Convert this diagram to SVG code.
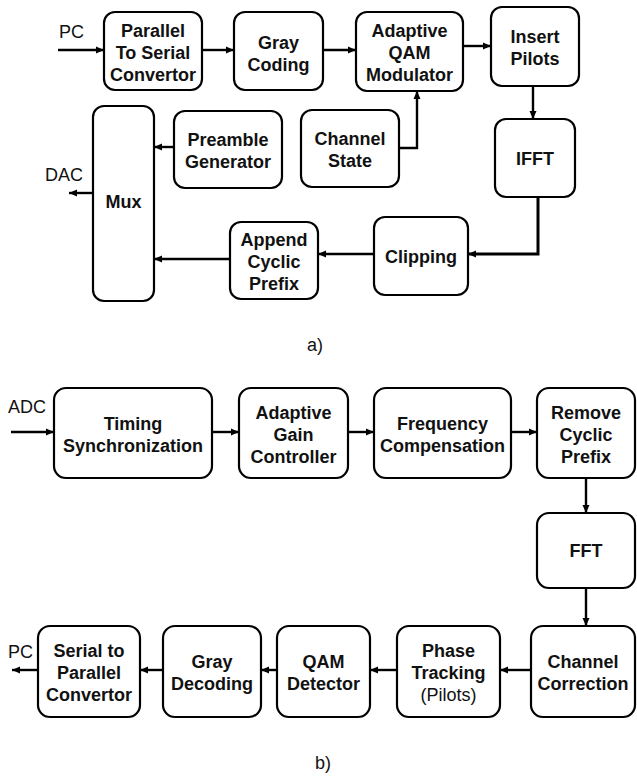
<svg xmlns="http://www.w3.org/2000/svg" width="637" height="777" viewBox="0 0 637 777">
  <style>
    .box { fill: #ffffff; stroke: #000000; stroke-width: 2.2; }
    .lbl { font-family: "Liberation Sans", Arial, sans-serif; font-size: 18px; font-weight: bold; fill: #111111; text-anchor: middle; }
    .reg { font-weight: normal; }
    .io { font-family: "Liberation Sans", Arial, sans-serif; font-size: 18px; fill: #111111; }
    .wire { fill: none; stroke: #000000; stroke-width: 2.4; marker-end: url(#head); }
  </style>
  <defs>
    <marker id="head" markerUnits="userSpaceOnUse" markerWidth="10" markerHeight="10" refX="9" refY="5" orient="auto">
      <path d="M1,1.5 L9,5 L1,8.5 Z" fill="#000000"/>
    </marker>
  </defs>

  <!-- Transmitter chain -->
  <g id="tx-p2s">
    <rect class="box" x="104" y="12" width="98" height="78" rx="11"/>
    <text class="lbl" x="153" y="37">Parallel</text>
    <text class="lbl" x="153" y="59">To Serial</text>
    <text class="lbl" x="153" y="81">Convertor</text>
  </g>
  <g id="tx-gray">
    <rect class="box" x="234" y="12" width="89" height="78" rx="11"/>
    <text class="lbl" x="278.5" y="48.5">Gray</text>
    <text class="lbl" x="278.5" y="70.5">Coding</text>
  </g>
  <g id="tx-qam">
    <rect class="box" x="356" y="12" width="107" height="79" rx="11"/>
    <text class="lbl" x="409.5" y="37">Adaptive</text>
    <text class="lbl" x="409.5" y="59">QAM</text>
    <text class="lbl" x="409.5" y="81">Modulator</text>
  </g>
  <g id="tx-pilots">
    <rect class="box" x="491" y="7" width="88" height="79" rx="11"/>
    <text class="lbl" x="535" y="43">Insert</text>
    <text class="lbl" x="535" y="65">Pilots</text>
  </g>
  <g id="tx-ifft">
    <rect class="box" x="495" y="119" width="80" height="78" rx="11"/>
    <text class="lbl" x="535" y="165">IFFT</text>
  </g>
  <g id="tx-chstate">
    <rect class="box" x="301" y="110" width="98" height="77" rx="11"/>
    <text class="lbl" x="350" y="145">Channel</text>
    <text class="lbl" x="350" y="167">State</text>
  </g>
  <g id="tx-preamble">
    <rect class="box" x="174" y="111" width="108" height="77" rx="11"/>
    <text class="lbl" x="228" y="146">Preamble</text>
    <text class="lbl" x="228" y="168">Generator</text>
  </g>
  <g id="tx-mux">
    <rect class="box" x="93" y="106" width="61" height="195" rx="11"/>
    <text class="lbl" x="123.5" y="208">Mux</text>
  </g>
  <g id="tx-cp">
    <rect class="box" x="230" y="222" width="88" height="77" rx="11"/>
    <text class="lbl" x="274" y="246">Append</text>
    <text class="lbl" x="274" y="268">Cyclic</text>
    <text class="lbl" x="274" y="290">Prefix</text>
  </g>
  <g id="tx-clip">
    <rect class="box" x="374" y="217" width="94" height="78" rx="11"/>
    <text class="lbl" x="421" y="263">Clipping</text>
  </g>

  <!-- Receiver chain -->
  <g id="rx-timing">
    <rect class="box" x="54" y="388" width="158" height="90" rx="12"/>
    <text class="lbl" x="133" y="430">Timing</text>
    <text class="lbl" x="133" y="452">Synchronization</text>
  </g>
  <g id="rx-agc">
    <rect class="box" x="239" y="388" width="109" height="90" rx="12"/>
    <text class="lbl" x="293.5" y="419">Adaptive</text>
    <text class="lbl" x="293.5" y="441">Gain</text>
    <text class="lbl" x="293.5" y="463">Controller</text>
  </g>
  <g id="rx-freq">
    <rect class="box" x="374" y="388" width="137" height="90" rx="12"/>
    <text class="lbl" x="442.5" y="430">Frequency</text>
    <text class="lbl" x="442.5" y="452">Compensation</text>
  </g>
  <g id="rx-cp">
    <rect class="box" x="537" y="388" width="98" height="90" rx="12"/>
    <text class="lbl" x="586" y="419">Remove</text>
    <text class="lbl" x="586" y="441">Cyclic</text>
    <text class="lbl" x="586" y="463">Prefix</text>
  </g>
  <g id="rx-fft">
    <rect class="box" x="537" y="513" width="98" height="75" rx="12"/>
    <text class="lbl" x="586" y="557">FFT</text>
  </g>
  <g id="rx-chcorr">
    <rect class="box" x="531" y="626" width="104" height="91" rx="12"/>
    <text class="lbl" x="583" y="668">Channel</text>
    <text class="lbl" x="583" y="690">Correction</text>
  </g>
  <g id="rx-phase">
    <rect class="box" x="397" y="626" width="103" height="91" rx="12"/>
    <text class="lbl" x="448.5" y="657">Phase</text>
    <text class="lbl" x="448.5" y="679">Tracking</text>
    <text class="lbl reg" x="448.5" y="701">(Pilots)</text>
  </g>
  <g id="rx-qam">
    <rect class="box" x="277" y="626" width="93" height="91" rx="12"/>
    <text class="lbl" x="323.5" y="668">QAM</text>
    <text class="lbl" x="323.5" y="690">Detector</text>
  </g>
  <g id="rx-gray">
    <rect class="box" x="163" y="626" width="98" height="91" rx="12"/>
    <text class="lbl" x="212" y="668">Gray</text>
    <text class="lbl" x="212" y="690">Decoding</text>
  </g>
  <g id="rx-s2p">
    <rect class="box" x="38" y="626" width="102" height="91" rx="12"/>
    <text class="lbl" x="89" y="657">Serial to</text>
    <text class="lbl" x="89" y="679">Parallel</text>
    <text class="lbl" x="89" y="701">Convertor</text>
  </g>

  <!-- Signal flow -->
  <g id="connectors">
    <path class="wire" d="M58,50 H104"/>
    <path class="wire" d="M202,50 H234"/>
    <path class="wire" d="M323,50 H356"/>
    <path class="wire" d="M463,46 H491"/>
    <path class="wire" d="M533,86 V119"/>
    <path class="wire" d="M399,148 H417 V91"/>
    <path class="wire" d="M174,147 H154"/>
    <path class="wire" d="M93,193 H69"/>
    <path class="wire" d="M230,259 H154"/>
    <path class="wire" d="M374,254 H318"/>
    <path class="wire" d="M538,197 V254 H468" style="stroke-width:3"/>

    <path class="wire" d="M11,432 H54"/>
    <path class="wire" d="M212,432 H239"/>
    <path class="wire" d="M348,432 H374"/>
    <path class="wire" d="M511,432 H537"/>
    <path class="wire" d="M586,478 V513"/>
    <path class="wire" d="M586,588 V626"/>
    <path class="wire" d="M531,670 H500"/>
    <path class="wire" d="M397,670 H370"/>
    <path class="wire" d="M277,670 H261"/>
    <path class="wire" d="M163,670 H140"/>
    <path class="wire" d="M38,670 H12"/>
  </g>

  <!-- Port names and captions -->
  <g id="labels">
    <text class="io" x="59" y="38">PC</text>
    <text class="io" x="45" y="181">DAC</text>
    <text class="io" x="307" y="351">a)</text>
    <text class="io" x="8" y="413">ADC</text>
    <text class="io" x="8" y="658">PC</text>
    <text class="io" x="315" y="769">b)</text>
  </g>
</svg>
